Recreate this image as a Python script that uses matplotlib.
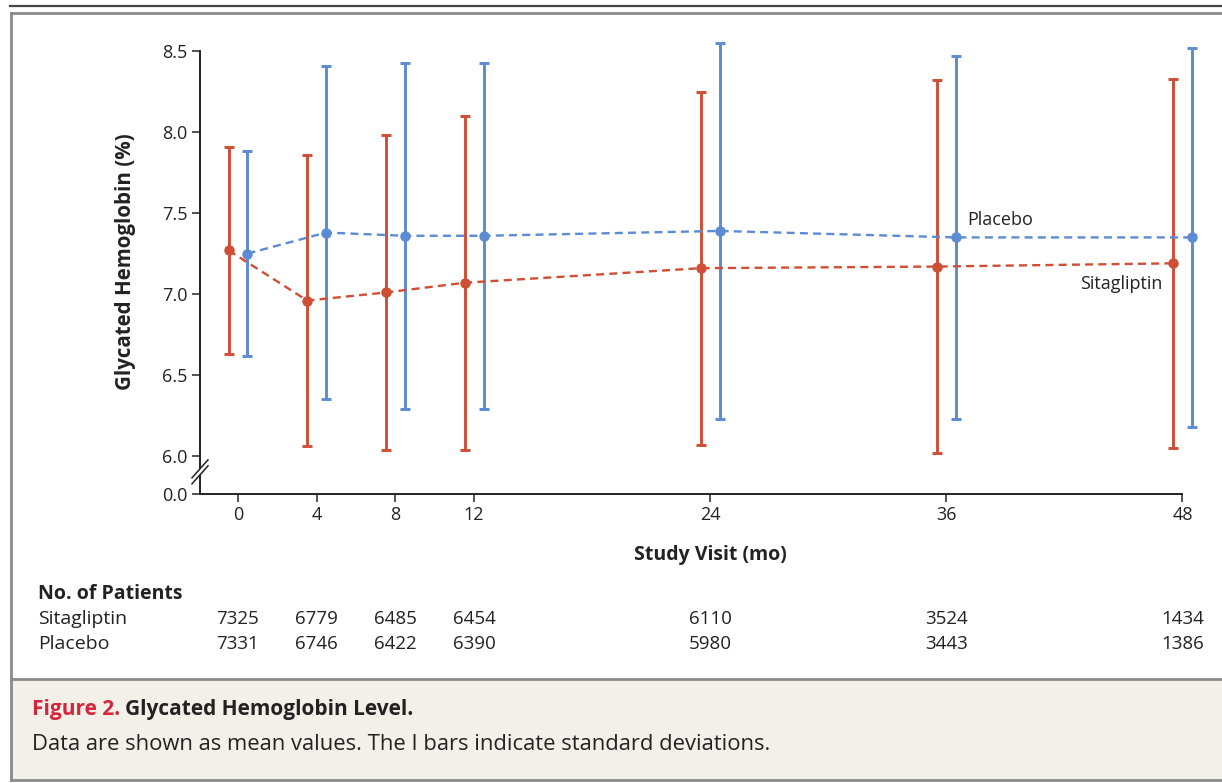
import numpy as np
import matplotlib
matplotlib.use("Agg")
import matplotlib.pyplot as plt
import matplotlib.transforms as mtransforms
from matplotlib.lines import Line2D
from matplotlib.patches import Rectangle

# ---- data ----
months = [0, 4, 8, 12, 24, 36, 48]
sita_mean = [7.27, 6.96, 7.01, 7.07, 7.16, 7.17, 7.19]
sita_sd = [0.64, 0.90, 0.97, 1.03, 1.09, 1.15, 1.14]
placebo_mean = [7.25, 7.38, 7.36, 7.36, 7.39, 7.35, 7.35]
placebo_sd = [0.635, 1.03, 1.07, 1.07, 1.16, 1.12, 1.17]
sita_n = [7325, 6779, 6485, 6454, 6110, 3524, 1434]
placebo_n = [7331, 6746, 6422, 6390, 5980, 3443, 1386]
yticks = [0.0, 6.0, 6.5, 7.0, 7.5, 8.0, 8.5]

RED = "#cf4e34"
BLUE = "#5b8bd2"
INK = "#222222"
FONT = "Open Sans"

plt.rcParams["font.family"] = [FONT, "DejaVu Sans"]

W, H = 1222, 783
fig = plt.figure(figsize=(W / 100, H / 100), dpi=100)


def fx(px):
    return px / W


def fy(py):
    return 1 - py / H


# ---- broken y scale: 0..6 squeezed into a short stub below 6 ----
GAP = 0.2346


def fwd(y):
    y = np.asarray(y, dtype=float)
    return np.where(y >= 6, y, 6 - GAP * (6 - y) / 6)


def inv(u):
    u = np.asarray(u, dtype=float)
    return np.where(u >= 6, u, 6 - (6 - u) * 6 / GAP)


ax = fig.add_axes([fx(200), fy(494), fx(1212) - fx(200), fy(35) - fy(494)])
ax.set_yscale("function", functions=(fwd, inv))
ax.set_xlim(-1.93, 49.5)
ax.set_ylim(0, 8.6)

off = 0.48
xs = np.array(months, dtype=float)

ax.errorbar(xs - off, sita_mean, yerr=sita_sd, color=RED, lw=0, elinewidth=2.1,
            capsize=3.6, capthick=2.1, marker="o", ms=6.5, zorder=3)
ax.errorbar(xs + off, placebo_mean, yerr=placebo_sd, color=BLUE, lw=0, elinewidth=2.1,
            capsize=3.6, capthick=2.1, marker="o", ms=6.5, zorder=3)
ax.plot(xs - off, sita_mean, color=RED, lw=1.7, dashes=(3.4, 2.2), zorder=4)
ax.plot(xs + off, placebo_mean, color=BLUE, lw=1.7, dashes=(3.4, 2.2), zorder=4)

ax.text(37.05, 7.46, "Placebo", fontsize=13, color=INK, ha="left", va="center")
ax.text(47.0, 7.06, "Sitagliptin", fontsize=13, color=INK, ha="right", va="center")

for s in ("top", "right"):
    ax.spines[s].set_visible(False)
ax.spines["left"].set_bounds(0, 8.5)
ax.spines["bottom"].set_bounds(-1.93, 48)
for s in ("left", "bottom"):
    ax.spines[s].set_color(INK)
    ax.spines[s].set_linewidth(1.4)

ax.set_yticks(yticks)
ax.set_yticklabels([f"{v:.1f}" for v in yticks])
ax.set_xticks(months)
ax.set_xticklabels([str(m) for m in months])
ax.tick_params(axis="both", direction="out", length=6, width=1.3, color="#444444",
               labelsize=13, labelcolor=INK, pad=3)
ax.minorticks_off()

# axis titles
fig.text(fx(126), fy(262), "Glycated Hemoglobin (%)", rotation=90, fontsize=14.8,
         fontweight="bold", color=INK, ha="center", va="center")
tt = mtransforms.blended_transform_factory(ax.transData, fig.transFigure)
ax.text(24, fy(555), "Study Visit (mo)", transform=tt, fontsize=14, fontweight="bold",
        color=INK, ha="center", va="center")

# ---- axis-break symbol on the y spine ----
bt = mtransforms.blended_transform_factory(ax.transAxes, ax.transData)
cx, cy = bt.transform((0, 3.5))
T = mtransforms.Affine2D().translate(cx, cy)
ax.add_patch(plt.Polygon([(-8, -12), (8, 6), (8, 12), (-8, -6)], closed=True,
                         facecolor="white", edgecolor="none", transform=T, clip_on=False, zorder=5))
for d in (-3, 3):
    ax.add_line(Line2D([-8, 8], [-9 + d, 9 + d], color=INK, lw=1.1,
                       transform=T, clip_on=False, zorder=6))

# ---- patients-at-risk table ----
fig.text(fx(38), fy(594), "No. of Patients", fontsize=14, fontweight="bold", color=INK, va="center")
fig.text(fx(38), fy(619), "Sitagliptin", fontsize=14, color=INK, va="center")
fig.text(fx(38), fy(644), "Placebo", fontsize=14, color=INK, va="center")
for m, a, b in zip(months, sita_n, placebo_n):
    ax.text(m, fy(619), str(a), transform=tt, fontsize=13.5, color=INK, ha="center", va="center")
    ax.text(m, fy(644), str(b), transform=tt, fontsize=13.5, color=INK, ha="center", va="center")

# ---- frame and caption panel ----
fig.add_artist(Rectangle((fx(12), fy(780)), 1 - fx(12), fy(680) - fy(780),
                         transform=fig.transFigure, facecolor="#f3f0ea", edgecolor="none", zorder=0))
frame = "#8a8a8a"
fig.add_artist(Line2D([fx(10), 1], [fy(6), fy(6)], color="#444444", lw=1.6))
fig.add_artist(Line2D([fx(11), 1], [fy(13), fy(13)], color=frame, lw=2.0))
fig.add_artist(Line2D([fx(11), 1], [fy(679), fy(679)], color=frame, lw=2.0))
fig.add_artist(Line2D([fx(11), 1], [fy(780), fy(780)], color=frame, lw=2.0))
fig.add_artist(Line2D([fx(11), fx(11)], [fy(13), fy(780)], color=frame, lw=2.0))

t1 = fig.text(fx(32), fy(710), "Figure 2.", fontsize=15, fontweight="bold", color="#d6243a", va="center")
fig.canvas.draw()
ext = t1.get_window_extent(fig.canvas.get_renderer())
fig.text((ext.x1 + 5) / W, fy(710), "Glycated Hemoglobin Level.", fontsize=15, fontweight="bold",
         color=INK, va="center")
fig.text(fx(32), fy(745), "Data are shown as mean values. The I bars indicate standard deviations.",
         fontsize=15.8, color=INK, va="center")

fig.savefig("out.png", dpi=100)
